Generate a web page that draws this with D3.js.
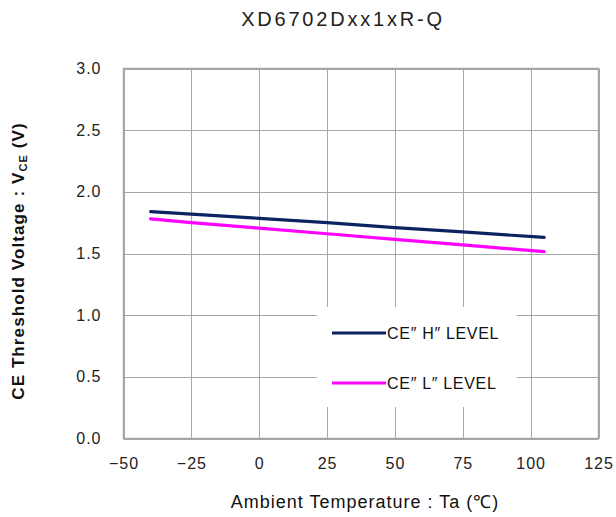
<!DOCTYPE html>
<html><head><meta charset="utf-8">
<script src="https://cdn.jsdelivr.net/npm/d3@7"></script>
<style>body{margin:0;background:#fff}svg{display:block}</style>
</head><body>
<svg id="c" width="616" height="517"></svg>
<script>
const title = "XD6702Dxx1xR-Q";
const temps = [-40, -25, 0, 25, 50, 75, 105];
const hLevel = [1.84, 1.82, 1.785, 1.75, 1.71, 1.675, 1.63];
const lLevel = [1.78, 1.75, 1.705, 1.66, 1.615, 1.57, 1.515];
const seriesNames = ["CE\u2033 H\u2033 LEVEL", "CE\u2033 L\u2033 LEVEL"];
const seriesColors = ["#0b2461", "#ff00ff"];
const xTicks = [-50, -25, 0, 25, 50, 75, 100, 125];
const yTicks = [0.0, 0.5, 1.0, 1.5, 2.0, 2.5, 3.0];

const svg = d3.select("#c");
const L = 123.5, R = 598.5, T = 68.5, B = 438.5;
const x = d3.scaleLinear().domain([-50, 125]).range([L, R]);
const y = d3.scaleLinear().domain([0, 3]).range([B, T]);
const font = "'Liberation Sans', Arial, sans-serif";
const grid = "#a6a6a6";

// gridlines
svg.append("g").selectAll("line").data(xTicks).join("line")
  .attr("x1", d => Math.round(x(d)) + 0.5).attr("x2", d => Math.round(x(d)) + 0.5)
  .attr("y1", T).attr("y2", B).attr("stroke", grid).attr("stroke-width", 1);
svg.append("g").selectAll("line").data(yTicks).join("line")
  .attr("y1", d => Math.round(y(d)) + 0.5).attr("y2", d => Math.round(y(d)) + 0.5)
  .attr("x1", L).attr("x2", R).attr("stroke", grid).attr("stroke-width", 1);
svg.append("rect").attr("x", L).attr("y", T).attr("width", R - L).attr("height", B - T)
  .attr("fill", "none").attr("stroke", grid).attr("stroke-width", 1.5);

// axes labels via d3 axes (no lines)
const xAxis = svg.append("g").attr("transform", `translate(0,${B})`)
  .call(d3.axisBottom(x).tickValues(xTicks).tickSize(0).tickPadding(19).tickFormat(d => d < 0 ? "\u2212" + Math.abs(d) : d));
const yAxis = svg.append("g").attr("transform", `translate(${L},0)`)
  .call(d3.axisLeft(y).tickValues(yTicks).tickSize(0).tickPadding(22).tickFormat(d3.format(".1f")));
[xAxis, yAxis].forEach(a => {
  a.select(".domain").remove();
  a.selectAll("text").attr("font-family", font).attr("font-size", 16).attr("letter-spacing", 1).attr("fill", "#222");
});

// series
const series = [hLevel, lLevel];
const line = d3.line().x((d, i) => x(temps[i])).y(d => y(d));
series.forEach((s, k) => {
  svg.append("path").datum(s).attr("d", line).attr("fill", "none")
    .attr("stroke", seriesColors[k]).attr("stroke-width", 3.2).attr("stroke-linecap", "round");
});

// legend
svg.append("rect").attr("x", 317).attr("y", 307).attr("width", 200).attr("height", 100).attr("fill", "#fff");
seriesNames.forEach((n, k) => {
  const yy = 333 + k * 50;
  svg.append("line").attr("x1", 332).attr("x2", 386).attr("y1", yy).attr("y2", yy)
    .attr("stroke", seriesColors[k]).attr("stroke-width", 3);
  svg.append("text").attr("x", 387).attr("y", yy).attr("dy", "0.36em")
    .attr("font-family", font).attr("font-size", 16).attr("letter-spacing", 0.7).attr("fill", "#111").text(n);
});

// title
svg.append("text").attr("x", 343).attr("y", 26).attr("text-anchor", "middle")
  .attr("font-family", font).attr("font-size", 20).attr("letter-spacing", 2.8).attr("fill", "#222").text(title);

// x title
svg.append("text").attr("x", 365).attr("y", 508).attr("text-anchor", "middle")
  .attr("font-family", font).attr("font-size", 18).attr("letter-spacing", 1).attr("fill", "#111").text("Ambient Temperature : Ta (\u2103)");

// y title
const yt = svg.append("text").attr("transform", "translate(24,261) rotate(-90)").attr("text-anchor", "middle")
  .attr("font-family", font).attr("font-size", 17).attr("font-weight", "bold").attr("letter-spacing", 1.1).attr("fill", "#111");
yt.append("tspan").text("CE Threshold Voltage : V");
yt.append("tspan").attr("font-size", 11).attr("dy", 3).text("CE");
yt.append("tspan").attr("dy", -3).text(" (V)");
</script>
</body></html>
